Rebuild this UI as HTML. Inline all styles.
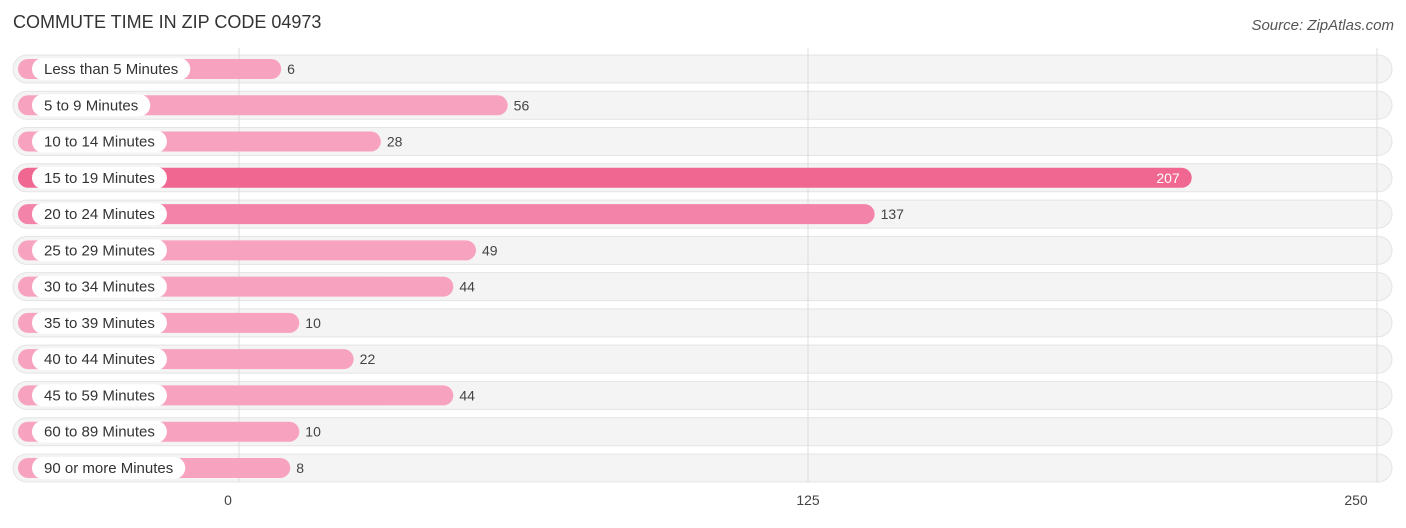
<!DOCTYPE html>
<html><head><meta charset="utf-8"><style>
body{margin:0;background:#fff;font-family:"Liberation Sans",sans-serif;}
svg text{font-family:"Liberation Sans",sans-serif;}
</style></head><body>
<svg width="1406" height="523" xmlns="http://www.w3.org/2000/svg">
<text x="13" y="28" font-size="18" fill="#333">COMMUTE TIME IN ZIP CODE 04973</text>
<text x="1394" y="30" font-size="15" fill="#555" font-style="italic" text-anchor="end">Source: ZipAtlas.com</text>
<g id="tracks"></g><g id="grid"></g><g id="rows"></g><g id="ticks"></g>
</svg>
<script>
const categories=["Less than 5 Minutes","5 to 9 Minutes","10 to 14 Minutes","15 to 19 Minutes","20 to 24 Minutes","25 to 29 Minutes","30 to 34 Minutes","35 to 39 Minutes","40 to 44 Minutes","45 to 59 Minutes","60 to 89 Minutes","90 or more Minutes"];
const values=[6,56,28,207,137,49,44,10,22,44,10,8];
const tickValues=[0,125,250];
const tickLabels=["0","125","250"];
const NS="http://www.w3.org/2000/svg";
function mk(t,a,p){const e=document.createElementNS(NS,t);for(const k in a)e.setAttribute(k,a[k]);p.appendChild(e);return e;}
const x0=254,k=4.53;
function xs(v){return x0+v*k;}
function gx(v){return 239+v*(1377-239)/250;}
function yc(i){return 69+i*36.27;}
const tracks=document.getElementById('tracks'),grid=document.getElementById('grid'),rows=document.getElementById('rows'),ticks=document.getElementById('ticks');
const maxV=Math.max(...values);
categories.forEach((c,i)=>{
 const y=yc(i);
 const tr=mk('rect',{x:13,y:y-14,width:1379,height:28,rx:14,fill:'#f4f4f4',stroke:'#e4e4e4'},tracks);
 
 
});
tickValues.forEach((v,i)=>{
 const l=mk('line',{x1:gx(v),x2:gx(v),y1:48,y2:482,stroke:'#dcdcdc'},grid);
 
 
 const t=mk('text',{x:gx(v)-(i==0?11:i==1?0:21),y:505,'font-size':14,fill:'#444','text-anchor':'middle'},ticks);
 t.textContent=tickLabels[i];
 
 
});
categories.forEach((c,i)=>{
 const y=yc(i),v=values[i];
 const f=v/maxV;
 const col=f>0.9?'#f06892':f>0.6?'#f383a8':'#f7a3bf';
 const b=mk('rect',{x:18,y:y-10,width:xs(v)-18,height:20,rx:10,fill:col},rows);
 
 
 const p=mk('rect',{x:32,y:y-11,width:100,height:22,rx:11,fill:'#fff'},rows);
 
 
 const t=mk('text',{x:44,y:y+5,'font-size':15,fill:'#333'},rows);
 t.textContent=c;
 
 
 let tw=c.length*7.2;
 try{tw=t.getComputedTextLength();}catch(e){}
 p.setAttribute('width',tw+24);
 const inside=f>0.9;
 const vt=mk('text',{x:inside?xs(v)-12:xs(v)+6,y:y+5,'font-size':14,fill:inside?'#fff':'#444','text-anchor':inside?'end':'start'},rows);
 vt.textContent=v;
 
 
});
</script>
</body></html>
